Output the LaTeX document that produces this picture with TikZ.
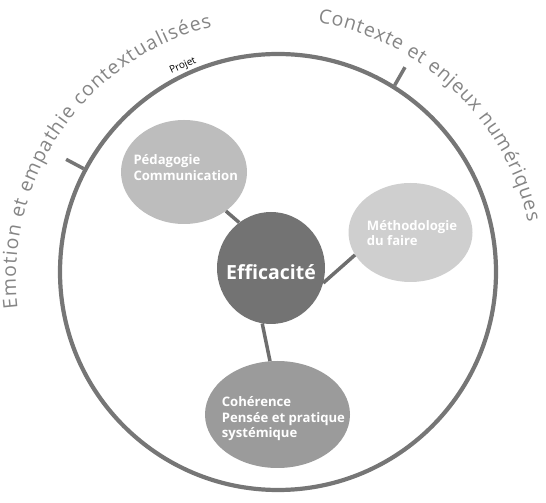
\documentclass[tikz,border=0pt]{standalone}
\usepackage{fontspec}
\setmainfont{Open Sans}
\usetikzlibrary{shapes.geometric,decorations.text}
\definecolor{ringgray}{HTML}{767676}
\definecolor{linkgray}{HTML}{6E6E6E}
\definecolor{arctext}{HTML}{858585}
\definecolor{pedfill}{HTML}{BDBDBD}
\definecolor{methfill}{HTML}{CFCFCF}
\definecolor{efffill}{HTML}{737373}
\definecolor{cohfill}{HTML}{9B9B9B}
\tikzset{
  ringstyle/.style={circle, draw=ringgray, line width=4.2pt, minimum size=436pt, inner sep=0pt},
  tickstyle/.style={draw=ringgray, line width=3.5pt},
  blob/.style={ellipse, inner sep=0pt, draw=none},
  link/.style={draw=linkgray, line width=3.5pt},
  lbl/.style={font=\bfseries\fontsize{13.1}{15}\selectfont, text=white, inner sep=0pt, anchor=base west},
  efflbl/.style={font=\bfseries\fontsize{19.5}{22}\selectfont, text=white, inner sep=0pt, anchor=base},
  arclabel/.style={decorate, decoration={text along path, text align=fit to path, text={|\fontsize{19.5}{23}\selectfont\color{arctext}|#1}}}
}
\begin{document}
\begin{tikzpicture}[x=1pt,y=1pt]
\useasboundingbox (0,0) rectangle (546,503);
\coordinate (C) at (278,231);
\coordinate (T) at (275,225);
\node[ringstyle] (ring) at (C) {};
\coordinate (tl) at ([shift={(C)}]152:240);
\coordinate (tr) at ([shift={(C)}]58.2:241);
\draw[tickstyle] (ring.152) -- (tl);
\draw[tickstyle] (ring.58.2) -- (tr);
% arc texts
\path[arclabel={Emotion et empathie contextualisées}] ([shift={(T)}]186.7:259) arc[start angle=186.7, end angle=104.1, radius=259];
\path[arclabel={Contexte et enjeux numériques}] ([shift={(T)}]80.5:259) arc[start angle=80.5, end angle=12.5, radius=259];
\node[font=\fontsize{10}{12}\selectfont, rotate=24, inner sep=0pt] (projet) at (183,437) {Projet};
% ellipses
\node[blob, fill=pedfill, minimum width=126pt, minimum height=104pt] (ped) at (184,331) {};
\node[blob, fill=methfill, minimum width=124pt, minimum height=99pt] (meth) at (410.5,270.5) {};
\node[blob, fill=efffill, minimum width=108pt, minimum height=112pt] (eff) at (271,235) {};
\node[blob, fill=cohfill, minimum width=145pt, minimum height=107pt] (coh) at (277.5,88.5) {};
% links
\draw[link] (ped.317) -- (eff.125.8);
\draw[link] (meth.202.8) -- (eff.344);
\draw[link] (coh.98) -- (eff.261.7);
% labels
\node[lbl] (pedA) at (133.3,338) {Pédagogie};
\node[lbl] (pedB) at (133.3,322) {Communication};
\node[lbl] (methA) at (366.7,272.5) {Méthodologie};
\node[lbl] (methB) at (366.7,257.3) {du faire};
\node[efflbl] (effA) at (271,223) {Efficacité};
\node[lbl] (cohA) at (221.7,96.3) {Cohérence};
\node[lbl] (cohB) at (221.7,80.7) {Pensée et pratique};
\node[lbl] (cohC) at (221.7,65.7) {systémique};
\end{tikzpicture}
\end{document}
